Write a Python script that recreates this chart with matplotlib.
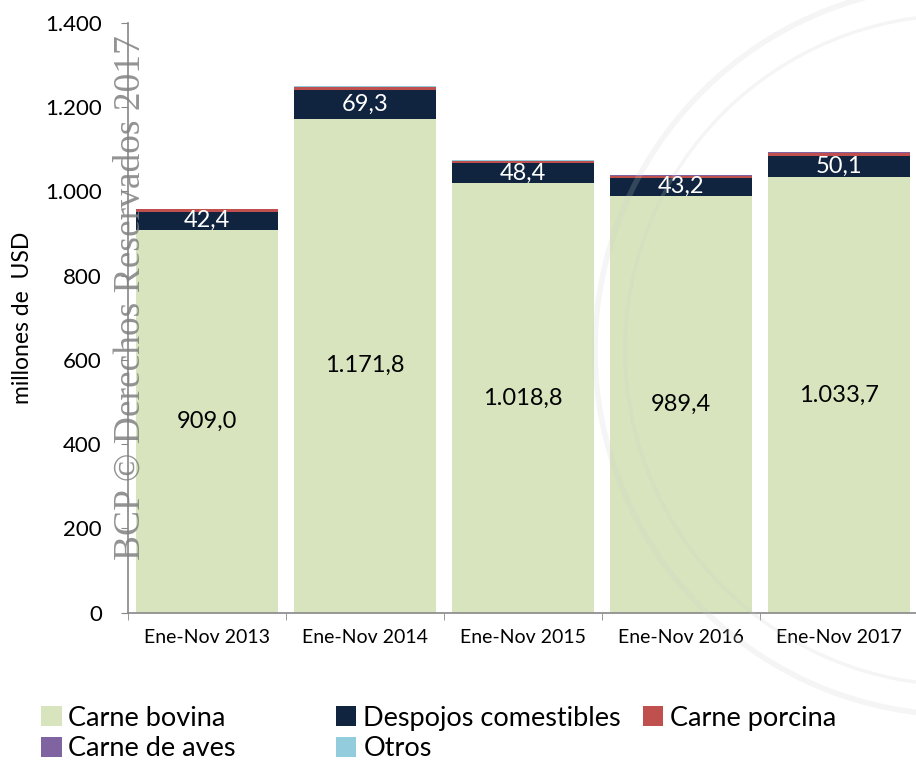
import numpy as np
import matplotlib.pyplot as plt
from matplotlib.patches import Circle
from matplotlib.ticker import FuncFormatter

# datos (millones de USD)
periodos = ["Ene-Nov 2013", "Ene-Nov 2014", "Ene-Nov 2015", "Ene-Nov 2016", "Ene-Nov 2017"]
carne_bovina = [909.0, 1171.8, 1018.8, 989.4, 1033.7]
despojos = [42.4, 69.3, 48.4, 43.2, 50.1]
carne_porcina = [6.0, 7.0, 5.0, 4.5, 8.0]
carne_aves = [0.8, 0.8, 0.6, 0.6, 2.0]
otros = [0.5, 0.5, 0.5, 0.5, 0.8]

series = [
    ("Carne bovina", carne_bovina, "#D7E4BD"),
    ("Despojos comestibles", despojos, "#10243F"),
    ("Carne porcina", carne_porcina, "#C0504D"),
    ("Carne de aves", carne_aves, "#8064A2"),
    ("Otros", otros, "#93CDDD"),
]


def fmt_es(v, dec=1):
    s = f"{v:,.{dec}f}"
    return s.replace(",", "X").replace(".", ",").replace("X", ".")


plt.rcParams['font.family'] = ['Lato', 'DejaVu Sans']

fig = plt.figure(figsize=(9.16, 7.62), dpi=100)
ax = fig.add_axes([0.14, 0.196, 0.862, 0.774])

x = np.arange(len(periodos))
bottom = np.zeros(len(periodos))
bars = {}
for name, vals, color in series:
    bars[name] = ax.bar(x, vals, 0.9, bottom=bottom, color=color, label=name)
    bottom += np.array(vals)

ax.bar_label(bars["Carne bovina"], labels=[fmt_es(v) for v in carne_bovina],
             label_type='center', fontsize=17, color='black')
ax.bar_label(bars["Despojos comestibles"], labels=[fmt_es(v) for v in despojos],
             label_type='center', fontsize=17, color='white')

ax.set_xlim(-0.5, 4.5)
ax.set_ylim(0, 1400)
ax.set_yticks(np.arange(0, 1401, 200))
ax.yaxis.set_major_formatter(FuncFormatter(lambda v, p: fmt_es(v, 0)))
ax.set_xticks(x)
ax.set_xticklabels(periodos, fontsize=14)
ax.set_xticks(np.arange(-0.5, 4.6, 1), minor=True)
ax.tick_params(axis='x', which='major', length=0, pad=12)
ax.tick_params(axis='x', which='minor', length=5, color='#888888')
ax.tick_params(axis='y', length=5, color='#888888', labelsize=16, pad=14)
ax.set_ylabel("millones de  USD", fontsize=16.5, labelpad=9)

for side in ['top', 'right']:
    ax.spines[side].set_visible(False)
for side in ['left', 'bottom']:
    ax.spines[side].set_color('#888888')
    ax.spines[side].set_linewidth(1.2)

# sello de fondo, muy tenue
for r, lw in [(365, 4), (335, 2.5)]:
    fig.patches.append(Circle((960, 412), r, transform=None, fill=False,
                              ec='#c8d0c8', lw=lw, alpha=0.2, zorder=10))

# marca de agua
fig.text(0.142, 0.61, "BCP © Derechos Reservados 2017", rotation=90,
         fontsize=27, color='#808080', alpha=0.85, family='Liberation Serif',
         ha='center', va='center')

# leyenda en tres columnas independientes (como en el original)
h, l = ax.get_legend_handles_labels()
columnas = [([0, 3], 0.045), ([1, 4], 0.367), ([2], 0.702)]
for idx, xpos in columnas:
    leg = fig.legend([h[i] for i in idx], [l[i] for i in idx],
                     loc='upper left', bbox_to_anchor=(xpos, 0.074),
                     frameon=False, fontsize=19.5, handlelength=0.75, handleheight=0.75,
                     handletextpad=0.25, labelspacing=0.2,
                     borderaxespad=0, borderpad=0)

fig.savefig("out.png", dpi=100)
